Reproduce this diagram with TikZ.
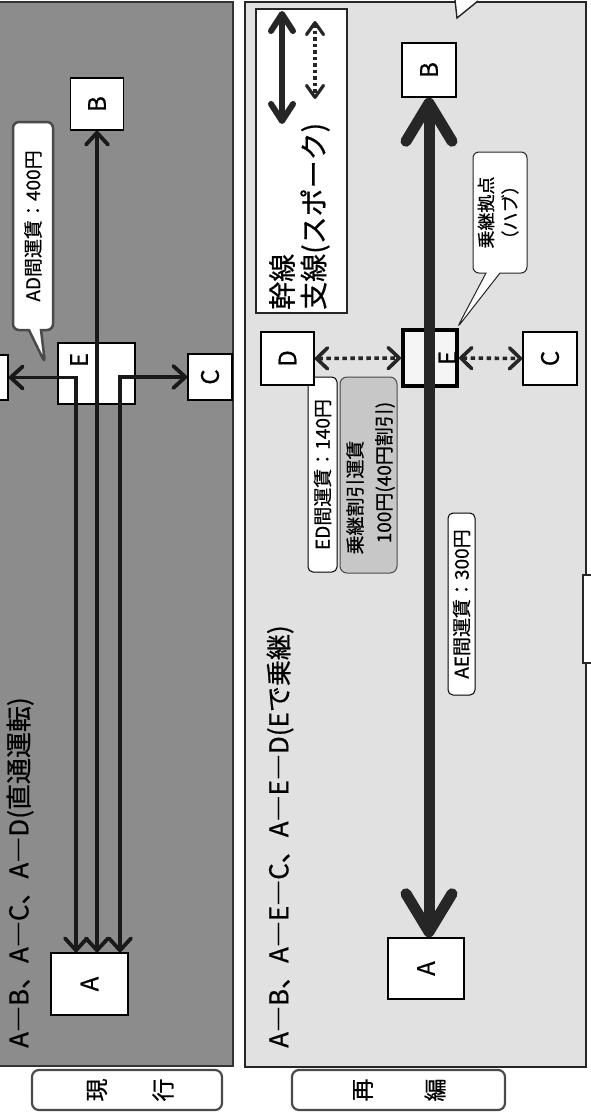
\documentclass[tikz,border=0pt]{standalone}
\usepackage{fontspec}
\setmainfont{Noto Sans CJK JP}[FakeBold=0.6]
\usepackage{graphicx}
\usetikzlibrary{arrows.meta,shapes.callouts}
\newcommand{\vtxt}[1]{\rotatebox{90}{#1}}
\newcommand{\fmain}{\fontsize{26}{28}\selectfont}
\newcommand{\flbl}{\fontsize{19}{21}\selectfont}
\newcommand{\fleg}{\fontsize{28}{30}\selectfont}
\newcommand{\fstn}{\fontsize{24}{26}\selectfont}
\newcommand{\fhub}{\fontsize{18}{24}\selectfont}
\newcommand{\ftag}{\fontsize{23}{24}\selectfont}
\definecolor{panelA}{HTML}{8C8C8C}
\definecolor{panelB}{HTML}{E1E1E1}
\definecolor{frameg}{HTML}{4A4A4A}
\begin{document}
\begin{tikzpicture}[x=1pt,y=-1pt,
  stn/.style={draw=black, line width=1.5pt, fill=white, inner sep=0pt, font=\fstn},
  oldline/.style={line width=3.8pt, draw=black!90,
    arrows={Straight Barb[length=12pt,width=22pt,round]-Straight Barb[length=12pt,width=22pt,round]}},
  trunkarrow/.style={line width=11pt, draw=black!85,
    arrows={Straight Barb[length=38pt,width=46pt,round]-Straight Barb[length=38pt,width=46pt,round]}},
  branchdots/.style={line width=3.6pt, draw=black!85, dash pattern=on 4.5pt off 3.5pt,
    arrows={Straight Barb[length=11pt,width=21pt,round]-Straight Barb[length=11pt,width=21pt,round]}},
  legtrunk/.style={line width=6pt, draw=black!85,
    arrows={Straight Barb[length=17pt,width=22pt,round]-Straight Barb[length=17pt,width=22pt,round]}},
  legbranch/.style={line width=3.2pt, draw=black!85, dash pattern=on 3.5pt off 3pt,
    arrows={Straight Barb[length=12pt,width=17pt,round]-Straight Barb[length=12pt,width=17pt,round]}},
  tagbox/.style={draw=frameg, line width=2.2pt, rounded corners=7pt, fill=white, inner sep=0pt},
  fare/.style={draw=black, line width=1pt, fill=white, rounded corners=5pt, inner sep=0pt, font=\flbl},
  vlabel/.style={rotate=90, inner sep=0pt}
]
\useasboundingbox (0,0) rectangle (591,1112);
\clip (0,0) rectangle (591,1112);
\fill[white] (0,0) rectangle (591,1112);

% ---------------- upper panel (current) ----------------
\filldraw[fill=panelA, draw=black!80, line width=1.6pt] (-10,2) rectangle (233,1066);

\node[stn, minimum width=53pt, minimum height=52pt] (B1) at (97,104) {\vtxt{B}};
\node[stn, minimum width=77pt, minimum height=61pt] (E1) at (96.5,373.5) {};
\node[font=\fstn, inner sep=0pt] (E1l) at (79,360) {\vtxt{E}};
\node[stn, minimum width=56pt, minimum height=45pt] (D1) at (-20,377.5) {};
\node[stn, minimum width=44pt, minimum height=46pt] (C1) at (210,377) {\vtxt{C}};
\node[stn, minimum width=77pt, minimum height=62pt] (A1) at (89.5,984) {\vtxt{A}};

\draw[oldline] (B1.south |- A1.north) -- (B1.south);
\draw[oldline] ([xshift=-13.5pt]A1.north) |- (D1.east);
\draw[oldline] ([xshift=30.5pt]A1.north) |- (C1.west);

\node[rectangle callout, callout absolute pointer={(45,363)}, callout pointer width=12pt,
  draw=frameg, line width=2.5pt, fill=white, rounded corners=6pt,
  minimum width=40pt, minimum height=208pt, inner sep=0pt, font=\flbl] (ADc) at (33,226) {\vtxt{AD間運賃：400円}};

\node[vlabel, anchor=west, font=\fmain] (t1) at (20,1048) {A―B、A―C、A―D(直通運転)};

% ---------------- lower panel (reorganised) ----------------
\filldraw[fill=panelB, draw=black!85, line width=1.6pt] (245,2) rectangle (586,1067);
\fill[white] (455,0) -- (457,17) -- (478,0) -- cycle;
\draw[black!85, line width=1.4pt] (455,0) -- (457,18) -- (478,1);
\filldraw[fill=white, draw=black!85, line width=1.6pt] (583,575) rectangle (600,663);

% legend
\node[draw=black!85, line width=1.3pt, fill=white, minimum width=91pt, minimum height=304pt, inner sep=0pt] (leg) at (301.5,161) {};
\coordinate (lt1) at (282,11);
\coordinate (lt2) at (282,124);
\coordinate (lb1) at (315,21);
\coordinate (lb2) at (315,99);
\draw[legtrunk] (lt1) -- (lt2);
\draw[legbranch] (lb1) -- (lb2);
\node[vlabel, anchor=west, font=\fleg] (legA) at (282,310) {幹線};
\node[vlabel, anchor=west, font=\fleg] (legB) at (315,310) {支線(スポーク)};

% fare boxes
\node[fare, minimum width=29pt, minimum height=195pt] (ED) at (322.5,474.5) {\vtxt{ED間運賃：140円}};
\node[draw=frameg, line width=1pt, fill=black!22, rounded corners=7pt, minimum width=57pt, minimum height=196pt, inner sep=0pt] (disc) at (368.5,475) {};
\node[vlabel, font=\flbl] (disc1) at (355,497.5) {乗継割引運賃};
\node[vlabel, font=\flbl] (disc2) at (385,472.5) {100円(40円割引)};
\node[fare, minimum width=27pt, minimum height=182pt] (AE) at (461.5,604) {\vtxt{AE間運賃：300円}};

% stations
\node[stn, minimum width=54pt, minimum height=54pt] (B2) at (429,70) {\vtxt{B}};
\node[stn, minimum width=53pt, minimum height=53pt] (D2) at (287.5,358.5) {\vtxt{D}};
\node[stn, minimum width=54pt, minimum height=53pt] (C2) at (550,358.5) {\vtxt{C}};
\node[stn, minimum width=76pt, minimum height=61pt] (A2) at (426,968.5) {\vtxt{A}};
\node[draw=black, line width=4pt, fill=black!4, minimum width=54pt, minimum height=56pt, inner sep=0pt] (E2) at (430,358) {};
\node[font=\fstn, inner sep=0pt] (E2l) at (447.5,358) {\vtxt{E}};

\draw[trunkarrow] (B2.south |- A2.north) -- (B2.south);
\draw[branchdots] (D2.east) -- (E2.west);
\draw[branchdots] (E2.east) -- (C2.west);

\node[rectangle callout, callout absolute pointer={(457,328)}, callout pointer width=14pt,
  draw=black!85, line width=1pt, fill=white, rounded corners=6pt,
  minimum width=54pt, minimum height=121pt, inner sep=0pt, font=\fhub] (hub) at (500,212.5)
  {\vtxt{\begin{tabular}{@{}c@{}}乗継拠点\\（ハブ）\end{tabular}}};

\node[vlabel, anchor=west, font=\fmain] (t2) at (280,1048) {A―B、A―E―C、A―E―D(Eで乗継)};

% ---------------- tags ----------------
\node[tagbox, minimum width=190pt, minimum height=40pt] (tag1) at (127,1090) {};
\node[font=\ftag, inner sep=0pt] (tag1a) at (97,1090) {\vtxt{現}};
\node[font=\ftag, inner sep=0pt] (tag1b) at (163,1090) {\vtxt{行}};
\node[tagbox, minimum width=213pt, minimum height=40pt] (tag2) at (398.5,1090) {};
\node[font=\ftag, inner sep=0pt] (tag2a) at (363,1090) {\vtxt{再}};
\node[font=\ftag, inner sep=0pt] (tag2b) at (435,1090) {\vtxt{編}};
\end{tikzpicture}
\end{document}
